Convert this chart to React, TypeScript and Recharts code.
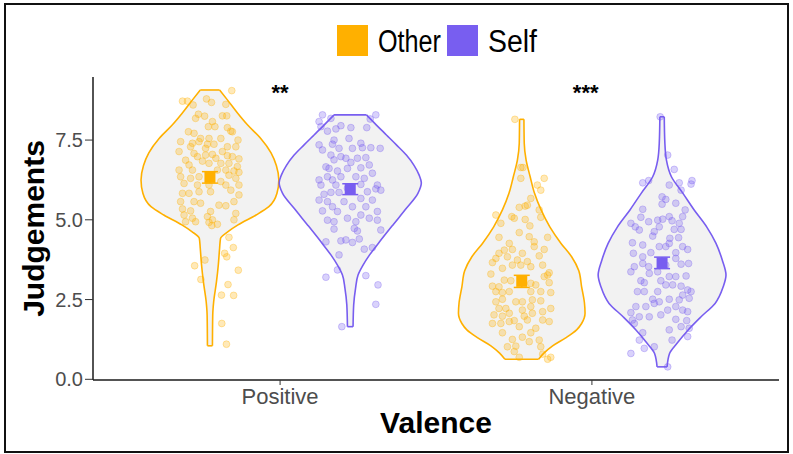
import React from "react";
import {
  Area,
  ComposedChart,
  ErrorBar,
  Label,
  ReferenceLine,
  Scatter,
  XAxis,
  YAxis,
} from "recharts";

const FONT = '"Liberation Sans", Arial, Helvetica, sans-serif';

const VALENCE = ["Positive", "Negative"];
const GROUPS = ["Other", "Self"];
const COLORS: Record<string, string> = { Other: "#FFB000", Self: "#785EF0" };
const Y_TICKS = [0, 2.5, 5, 7.5];
const X_TICKS = [1, 2];
const STARS = ["**", "***"];
const STAR_X = [1, 1.98];
const STAR_Y = 9.15;

// violin outlines: [judgement, half width]
const POS_OTHER_VIOLIN = [
  [9.07, 0.031], [8.76, 0.056], [8.34, 0.089], [7.97, 0.121], [7.55, 0.163],
  [7.1, 0.196], [6.7, 0.213], [6.25, 0.221], [5.83, 0.215], [5.41, 0.189],
  [5.15, 0.148], [4.84, 0.09], [4.63, 0.058], [4.42, 0.034], [4.11, 0.031],
  [3.6, 0.027], [3.06, 0.021], [2.43, 0.012], [2.02, 0.009], [1.05, 0.008],
];
const POS_SELF_VIOLIN = [
  [8.29, 0.052], [7.97, 0.084], [7.66, 0.116], [7.35, 0.148], [7.03, 0.18],
  [6.7, 0.205], [6.4, 0.221], [6.16, 0.228], [5.83, 0.217], [5.36, 0.18],
  [4.84, 0.137], [4.31, 0.094], [3.9, 0.062], [3.58, 0.041], [3.27, 0.025],
  [2.85, 0.017], [2.33, 0.011], [1.65, 0.009],
];
const NEG_OTHER_VIOLIN = [
  [8.15, 0.007], [7.4, 0.008], [6.87, 0.014], [6.35, 0.027], [5.83, 0.041],
  [5.31, 0.062], [4.78, 0.09], [4.26, 0.126], [3.84, 0.16], [3.4, 0.183],
  [2.9, 0.192], [2.4, 0.201], [2.07, 0.203], [1.75, 0.192], [1.55, 0.176],
  [1.3, 0.141], [1.05, 0.099], [0.82, 0.071], [0.63, 0.054],
];
const NEG_SELF_VIOLIN = [
  [8.23, 0.007], [7.4, 0.009], [6.87, 0.014], [6.35, 0.03], [5.83, 0.067],
  [5.31, 0.103], [4.78, 0.143], [4.26, 0.173], [3.74, 0.193], [3.27, 0.205],
  [2.9, 0.196], [2.38, 0.17], [1.96, 0.125], [1.54, 0.083], [1.13, 0.048],
  [0.81, 0.024], [0.39, 0.016],
];

// raw judgements: [jitter, judgement]
const POS_OTHER_POINTS = [
  [-0.088, 8.72], [-0.072, 8.72], [0.07, 9.05], [-0.011, 8.79], [0.005, 8.68], [0.051, 8.62],
  [-0.054, 8.6], [-0.037, 8.31], [-0.017, 8.25], [0.04, 8.26], [0.054, 8.26], [-0.046, 8.18],
  [0.008, 8.08], [0.016, 7.92], [-0.005, 7.92], [0.056, 7.89], [0.067, 7.78], [0.072, 7.76],
  [-0.069, 7.76], [-0.051, 7.71], [-0.03, 7.55], [-0.003, 7.55], [0.035, 7.55], [0.09, 7.5],
  [-0.094, 7.45], [-0.056, 7.4], [-0.035, 7.45], [-0.008, 7.37], [0.013, 7.37], [-0.062, 7.29],
  [0.083, 7.29], [0.056, 7.29], [-0.014, 7.24], [0.04, 7.14], [-0.099, 7.14], [-0.051, 7.08],
  [-0.04, 6.98], [-0.014, 7.03], [0.008, 7.05], [0.019, 6.93], [0.056, 7.01], [0.072, 6.98],
  [0.093, 6.91], [-0.078, 6.87], [-0.024, 6.84], [-0.003, 6.77], [0.035, 6.77], [0.061, 6.77],
  [0.088, 6.67], [-0.067, 6.72], [-0.099, 6.56], [-0.056, 6.56], [0.024, 6.56], [0.051, 6.56],
  [0.077, 6.53], [0.093, 6.49], [-0.094, 6.35], [-0.062, 6.3], [-0.035, 6.35], [0.035, 6.2],
  [0.061, 6.4], [0.083, 6.3], [-0.083, 6.14], [-0.04, 6.09], [-0.003, 6.09], [0.051, 6.09],
  [0.093, 6.09], [-0.088, 5.83], [-0.067, 5.83], [-0.035, 5.88], [0.002, 5.88], [0.067, 5.93],
  [0.093, 5.78], [-0.094, 5.57], [-0.051, 5.57], [-0.03, 5.52], [0.029, 5.46], [0.051, 5.44],
  [0.077, 5.57], [-0.088, 5.34], [-0.062, 5.28], [0.002, 5.26], [-0.083, 5.15], [-0.056, 5.05],
  [-0.008, 5.1], [0.008, 5.0], [0.083, 5.2], [0.077, 5.0], [-0.078, 4.94], [-0.046, 4.94],
  [-0.003, 4.92], [0.006, 4.82], [0.024, 4.86], [0.061, 4.45], [0.075, 4.13], [0.047, 3.95],
  [0.054, 3.84], [-0.016, 3.74], [-0.049, 3.56], [0.091, 3.42], [-0.029, 3.13], [0.058, 2.97],
  [0.037, 2.64], [0.076, 2.63], [0.038, 1.75], [0.053, 1.1],
];
const POS_SELF_POINTS = [
  [-0.089, 8.29], [-0.062, 8.18], [-0.1, 8.08], [-0.094, 7.92], [0.082, 8.29], [0.064, 8.16],
  [0.053, 7.89], [-0.046, 7.85], [-0.03, 7.95], [0.002, 7.89], [-0.073, 7.78], [-0.004, 7.55],
  [-0.052, 7.5], [0.034, 7.4], [-0.1, 7.35], [-0.057, 7.37], [-0.036, 7.24], [0.007, 7.24],
  [0.039, 7.26], [0.066, 7.26], [0.096, 7.24], [-0.089, 7.19], [-0.062, 7.03], [-0.03, 6.98],
  [-0.014, 6.93], [0.023, 6.93], [0.05, 6.95], [-0.052, 6.88], [0.002, 6.8], [-0.078, 6.66],
  [-0.068, 6.61], [0.034, 6.63], [0.061, 6.72], [-0.041, 6.53], [-0.009, 6.61], [-0.1, 6.25],
  [-0.073, 6.35], [-0.057, 6.25], [-0.03, 6.35], [0.018, 6.35], [0.071, 6.46], [0.045, 6.3],
  [0.087, 6.09], [0.082, 5.97], [-0.094, 6.09], [-0.046, 6.09], [0.034, 6.11], [-0.062, 5.86],
  [-0.036, 5.86], [0.055, 5.88], [0.098, 5.93], [-0.084, 5.8], [-0.009, 5.99], [-0.1, 5.62],
  [-0.073, 5.57], [-0.02, 5.57], [0.034, 5.67], [0.071, 5.62], [-0.057, 5.41], [0.007, 5.41],
  [0.05, 5.41], [0.087, 5.26], [-0.089, 5.28], [-0.041, 5.26], [-0.009, 5.05], [0.034, 5.15],
  [0.061, 5.05], [-0.073, 4.99], [-0.052, 4.94], [0.018, 4.94], [0.087, 4.99], [0.013, 4.73],
  [-0.052, 4.71], [0.098, 4.68], [0.023, 4.65], [-0.078, 4.31], [-0.03, 4.34], [-0.014, 4.37],
  [0.007, 4.29], [0.029, 4.4], [0.071, 4.13], [-0.036, 3.9], [0.045, 4.08], [-0.041, 3.43],
  [-0.078, 3.2], [0.05, 3.25], [0.089, 2.96], [0.082, 2.35], [-0.027, 1.65],
];
const NEG_OTHER_POINTS = [
  [-0.022, 8.15], [-0.003, 6.64], [0.004, 6.64], [-0.003, 6.3], [0.072, 6.3], [0.05, 6.09],
  [0.061, 5.93], [0.029, 5.67], [-0.008, 5.39], [0.011, 5.43], [0.018, 5.46], [-0.083, 5.15],
  [-0.032, 5.1], [-0.024, 5.05], [-0.067, 4.89], [0.011, 5.01], [0.026, 4.81], [0.056, 5.31],
  [0.061, 5.08], [-0.073, 4.45], [-0.008, 4.6], [0.024, 4.47], [0.083, 4.45], [0.04, 4.31],
  [-0.04, 4.26], [-0.056, 4.05], [-0.03, 4.07], [-0.073, 3.95], [0.002, 3.95], [0.04, 4.16],
  [0.072, 4.07], [-0.083, 3.79], [-0.046, 3.84], [-0.014, 3.74], [0.018, 3.69], [0.056, 3.87],
  [-0.03, 3.58], [-0.094, 3.66], [-0.003, 3.58], [0.029, 3.53], [0.067, 3.58], [0.088, 3.34],
  [-0.062, 3.48], [-0.099, 3.3], [0.083, 3.27], [-0.056, 3.11], [-0.035, 3.09], [0.072, 3.22],
  [-0.094, 2.92], [-0.073, 2.9], [-0.04, 2.75], [0.029, 3.01], [0.045, 2.96], [0.061, 2.75],
  [0.088, 3.03], [0.093, 2.72], [-0.083, 2.75], [-0.062, 2.72], [0.029, 2.75], [-0.062, 2.51],
  [-0.019, 2.43], [0.002, 2.43], [0.034, 2.49], [-0.083, 2.43], [0.061, 2.46], [0.029, 2.28],
  [-0.073, 2.22], [-0.051, 2.22], [-0.04, 2.07], [0.002, 2.17], [-0.089, 2.02], [-0.062, 1.98],
  [0.034, 2.07], [0.067, 2.12], [0.093, 2.22], [0.008, 1.98], [-0.04, 1.81], [-0.024, 1.84],
  [0.088, 1.81], [-0.094, 1.75], [-0.067, 1.75], [0.018, 1.86], [0.067, 1.86], [-0.008, 1.65],
  [0.045, 1.6], [-0.062, 1.46], [0.029, 1.46], [0.002, 1.32], [0.056, 1.23], [-0.03, 1.25],
  [0.024, 1.18], [-0.046, 1.02], [-0.019, 1.04], [0.061, 1.02], [-0.024, 0.87], [0.067, 0.79],
  [-0.008, 0.69], [0.083, 0.63], [0.093, 0.69],
];
const NEG_SELF_POINTS = [
  [-0.006, 8.23], [0.018, 7.03], [0.039, 6.58], [-0.062, 6.16], [-0.043, 6.23], [0.023, 6.09],
  [0.055, 6.16], [0.096, 6.23], [0.093, 6.12], [0.061, 5.93], [0.0, 5.72], [0.012, 5.64],
  [0.044, 5.52], [0.0, 5.49], [-0.062, 5.33], [0.074, 5.31], [0.066, 5.1], [0.023, 5.1],
  [-0.068, 5.08], [-0.014, 4.99], [0.002, 5.02], [0.032, 4.97], [-0.1, 4.89], [-0.086, 4.78],
  [-0.043, 4.94], [-0.009, 4.78], [0.055, 4.89], [0.039, 4.7], [0.061, 4.7], [-0.073, 4.68],
  [-0.025, 4.63], [-0.03, 4.49], [0.025, 4.42], [0.053, 4.44], [-0.095, 4.28], [-0.062, 4.21],
  [0.023, 4.26], [0.066, 4.16], [-0.092, 3.95], [-0.036, 3.97], [-0.009, 4.16], [0.012, 4.16],
  [0.044, 3.97], [0.082, 4.07], [-0.062, 3.84], [0.044, 3.79], [0.085, 3.63], [-0.089, 3.53],
  [-0.062, 3.63], [-0.043, 3.53], [0.012, 3.58], [0.061, 3.61], [-0.1, 3.37], [-0.041, 3.32],
  [-0.014, 3.37], [-0.068, 3.09], [-0.057, 3.03], [0.023, 3.22], [0.044, 3.22], [0.077, 3.24],
  [-0.004, 3.09], [0.012, 2.96], [-0.079, 2.75], [-0.057, 2.75], [-0.014, 2.75], [0.034, 2.96],
  [0.061, 2.92], [0.082, 2.8], [0.066, 2.64], [0.093, 2.75], [-0.03, 2.51], [-0.009, 2.43],
  [0.023, 2.51], [0.055, 2.49], [-0.025, 2.38], [0.087, 2.54], [-0.084, 2.28], [-0.052, 2.28],
  [0.018, 2.17], [0.044, 2.28], [0.066, 2.17], [0.082, 2.12], [-0.073, 1.96], [-0.041, 1.96],
  [-0.004, 2.02], [-0.1, 2.09], [0.044, 1.88], [0.079, 1.84], [-0.089, 1.75], [0.087, 1.6],
  [-0.062, 1.46], [0.061, 1.65], [-0.095, 1.86], [0.023, 1.55], [0.032, 1.23], [-0.073, 1.23],
  [0.082, 1.34], [-0.057, 0.97], [-0.025, 1.02], [-0.1, 0.81], [0.018, 0.39],
];

// group means and standard errors: Positive/Other, Positive/Self, Negative/Other, Negative/Self
const MEANS = [6.33, 5.96, 3.07, 3.65];
const SES = [0.18, 0.17, 0.19, 0.18];

const DODGE = 0.225;
const VIOLINS = [POS_OTHER_VIOLIN, POS_SELF_VIOLIN, NEG_OTHER_VIOLIN, NEG_SELF_VIOLIN];
const POINTS = [POS_OTHER_POINTS, POS_SELF_POINTS, NEG_OTHER_POINTS, NEG_SELF_POINTS];

const cells = VALENCE.flatMap((val, vi) =>
  GROUPS.map((g, gi) => {
    const k = vi * 2 + gi;
    const c = vi + 1 + (gi === 0 ? -DODGE : DODGE);
    const outline = VIOLINS[k];
    return {
      key: `${val}-${g}`,
      color: COLORS[g],
      violin: outline.map(([v, w]) => ({ v, range: [c - w, c + w] })),
      top: outline[0],
      bottom: outline[outline.length - 1],
      c,
      points: POINTS[k].map(([dx, v]) => ({ x: c + dx, v })),
      mean: [{ x: c, v: MEANS[k], err: SES[k] }],
    };
  })
);

const starData = STARS.map((t, i) => ({ x: STAR_X[i], v: STAR_Y, t }));

const dotShape = (color: string) => (p: any) => (
  <circle
    cx={p.cx}
    cy={p.cy}
    r={3.4}
    fill={color}
    fillOpacity={0.28}
    stroke={color}
    strokeOpacity={0.32}
    strokeWidth={1}
  />
);

const meanShape = (color: string) => (p: any) => (
  <rect x={p.cx - 5.5} y={p.cy - 5.5} width={11} height={11} fill={color} />
);

const starShape = (p: any) => (
  <text
    x={p.cx}
    y={p.cy}
    dy="0.55em"
    textAnchor="middle"
    fontSize={22}
    fontWeight="bold"
    fontFamily={FONT}
    fill="#000"
  >
    {p.payload.t}
  </text>
);

function Legendish() {
  return (
    <svg
      width={793}
      height={70}
      style={{ position: "absolute", left: 0, top: 0, pointerEvents: "none" }}
    >
      <rect x={337} y={25} width={31} height={31} fill={COLORS.Other} />
      <text x={378} y={52} fontSize={31} fontFamily={FONT} textLength={63} lengthAdjust="spacingAndGlyphs">
        Other
      </text>
      <rect x={447} y={25} width={31} height={31} fill={COLORS.Self} />
      <text x={488} y={52} fontSize={31} fontFamily={FONT} textLength={49} lengthAdjust="spacingAndGlyphs">
        Self
      </text>
    </svg>
  );
}

export default function App() {
  return (
    <div style={{ position: "relative", width: 793, height: 454, background: "#fff" }}>
      <style>{`body{margin:0}`}</style>
      <ComposedChart
        width={793}
        height={454}
        layout="vertical"
        margin={{ top: 77, right: 14, bottom: 0, left: 0 }}
      >
        <XAxis
          type="number"
          dataKey="x"
          domain={[0.4, 2.6]}
          allowDataOverflow
          ticks={X_TICKS}
          tickFormatter={(t: number) => VALENCE[t - 1]}
          height={74}
          tickSize={5}
          tickMargin={3}
          tick={{ fontSize: 22, fill: "#4D4D4D", fontFamily: FONT }}
          tickLine={{ stroke: "#333" }}
          axisLine={{ stroke: "#1a1a1a", strokeWidth: 1.5 }}
        >
          <Label
            content={({ viewBox }: any) => (
              <text
                x={viewBox.x + viewBox.width / 2}
                y={viewBox.y + 53}
                textAnchor="middle"
                fontSize={30}
                fontWeight="bold"
                fontFamily={FONT}
                fill="#000"
              >
                Valence
              </text>
            )}
          />
        </XAxis>
        <YAxis
          type="number"
          dataKey="v"
          domain={[-0.022, 9.477]}
          allowDataOverflow
          reversed
          ticks={Y_TICKS}
          tickFormatter={(t: number) => t.toFixed(1)}
          width={93}
          tickSize={8}
          tickMargin={2}
          tick={{ fontSize: 20, fill: "#4D4D4D", fontFamily: FONT }}
          tickLine={{ stroke: "#333" }}
          axisLine={{ stroke: "#1a1a1a", strokeWidth: 1.5 }}
        >
          <Label
            content={({ viewBox }: any) => {
              const x = viewBox.x + 44;
              const y = viewBox.y + viewBox.height / 2;
              return (
                <text
                  x={x}
                  y={y}
                  transform={`rotate(-90, ${x}, ${y})`}
                  textAnchor="middle"
                  fontSize={30}
                  fontWeight="bold"
                  fontFamily={FONT}
                  fill="#000"
                >
                  Judgements
                </text>
              );
            }}
          />
        </YAxis>

        {cells.map((cell) => (
          <Area
            key={`violin-${cell.key}`}
            data={cell.violin}
            dataKey="range"
            type="monotone"
            stroke={cell.color}
            strokeWidth={1.6}
            fill="#F2F2F2"
            fillOpacity={1}
            dot={false}
            activeDot={false}
            isAnimationActive={false}
          />
        ))}
        {cells.flatMap((cell) =>
          [cell.top, cell.bottom].map(([v, w], i) => (
            <ReferenceLine
              key={`cap-${cell.key}-${i}`}
              segment={[
                { x: cell.c - w, y: v },
                { x: cell.c + w, y: v },
              ]}
              stroke={cell.color}
              strokeWidth={1.6}
              ifOverflow="visible"
            />
          ))
        )}
        {cells.map((cell) => (
          <Scatter
            key={`pts-${cell.key}`}
            data={cell.points}
            shape={dotShape(cell.color)}
            isAnimationActive={false}
          />
        ))}
        {cells.map((cell) => (
          <Scatter
            key={`mean-${cell.key}`}
            data={cell.mean}
            shape={meanShape(cell.color)}
            isAnimationActive={false}
          >
            <ErrorBar dataKey="err" direction="y" width={8} stroke={cell.color} strokeWidth={1.5} />
          </Scatter>
        ))}
        <Scatter data={starData} shape={starShape} isAnimationActive={false} />
      </ComposedChart>
      <Legendish />
      <div
        style={{
          position: "absolute",
          left: 4,
          top: 3,
          width: 785,
          height: 450,
          boxSizing: "border-box",
          border: "2px solid #111",
          pointerEvents: "none",
        }}
      />
    </div>
  );
}
